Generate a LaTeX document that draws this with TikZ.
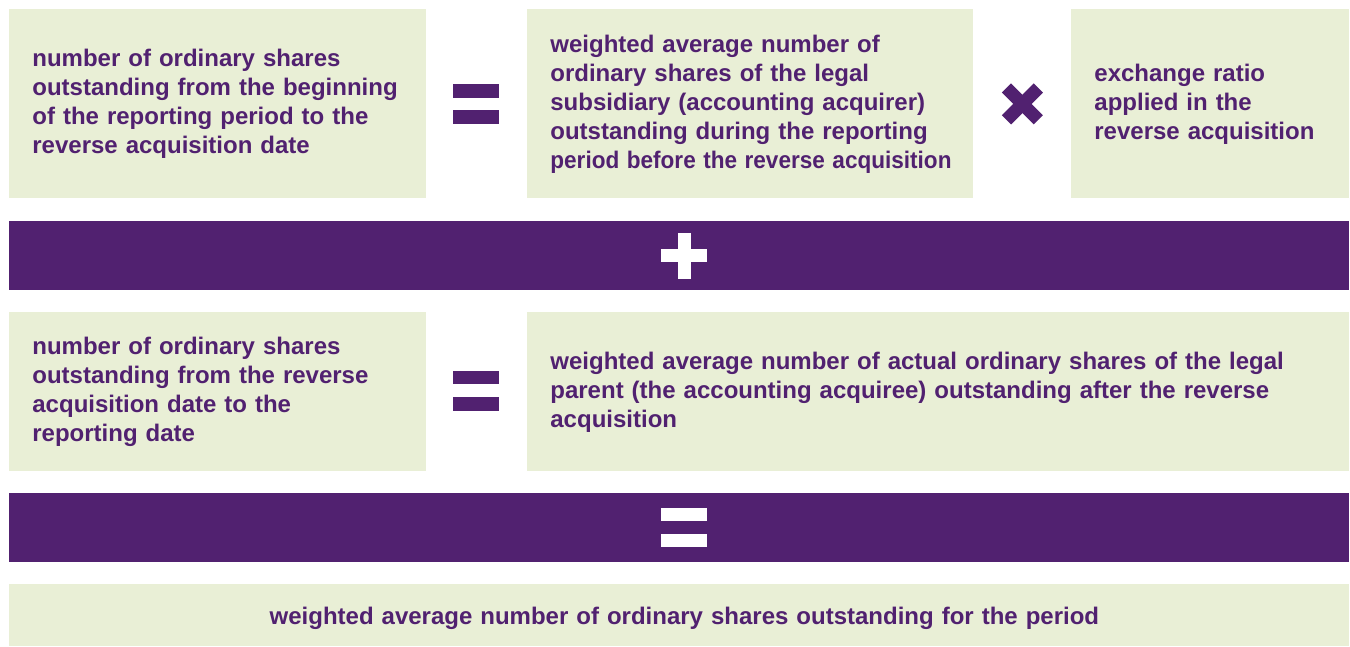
\documentclass[tikz,border=0pt]{standalone}
\usepackage{fontspec}
\setmainfont{Liberation Sans}
\usetikzlibrary{calc}
\definecolor{plum}{RGB}{81,33,112}
\definecolor{sage}{RGB}{233,239,214}
\tikzset{
	cell/.style={fill=sage, text=plum, font=\bfseries\fontsize{12}{14.5}\selectfont,
		align=left, anchor=north west, inner xsep=11.5pt, inner ysep=0pt},
	band/.style={fill=plum, anchor=north west, inner sep=0pt, minimum width=670pt, minimum height=34.5pt},
}

\begin{document}
\begin{tikzpicture}[x=0.5pt,y=-0.5pt]
	\useasboundingbox (0,0) rectangle (1350,647);
	
	% first row
	\node[cell, text width=185.5pt, minimum height=94.5pt] (prebox) at (9,9)
	{number of ordinary shares\\outstanding from the beginning\\of the reporting period to the\\reverse acquisition date};
	\node[cell, text width=200pt, minimum height=94.5pt] (subbox) at (527,9)
	{weighted average number of\\ordinary shares of the legal\\subsidiary (accounting acquirer)\\outstanding during the reporting\\\scalebox{0.94}[1]{period before the reverse acquisition}};
	\node[cell, text width=116pt, minimum height=94.5pt] (ratiobox) at (1071,9)
	{exchange ratio\\applied in the\\reverse acquisition};
	
	\fill[plum] (453,84) rectangle (499,98);
	\fill[plum] (453,110) rectangle (499,124);
	\coordinate (times) at ($(subbox.east)!0.5!(ratiobox.west)$);
	\fill[plum, rotate around={45:(times)}] ($(times)+(-22.5,-6.5)$) rectangle ($(times)+(22.5,6.5)$);
	\fill[plum, rotate around={-45:(times)}] ($(times)+(-22.5,-6.5)$) rectangle ($(times)+(22.5,6.5)$);
	
	% plus band
	\node[band] (plusband) at (9,221) {};
	\coordinate (plus) at ($(plusband.center)+(5,0)$);
	\fill[white] ($(plus)+(-23,-6.5)$) rectangle ($(plus)+(23,6.5)$);
	\fill[white] ($(plus)+(-6.5,-23)$) rectangle ($(plus)+(6.5,23)$);
	
	% second row
	\node[cell, text width=185.5pt, minimum height=79.5pt] (postbox) at (9,312)
	{number of ordinary shares\\outstanding from the reverse\\acquisition date to the\\reporting date};
	\node[cell, text width=388pt, minimum height=79.5pt] (parentbox) at (527,312)
	{weighted average number of actual ordinary shares of the legal\\parent (the accounting acquiree) outstanding after the reverse\\acquisition};
	
	\fill[plum] (453,371) rectangle (499,384);
	\fill[plum] (453,397) rectangle (499,411);
	
	% equals band
	\node[band] (eqband) at (9,493) {};
	\coordinate (eq) at ($(eqband.center)+(5,0)$);
	\fill[white] ($(eq)+(-23,-19.5)$) rectangle ($(eq)+(23,-6.5)$);
	\fill[white] ($(eq)+(-23,6.5)$) rectangle ($(eq)+(23,19.5)$);
	
	% result
	\node[cell, align=center, text width=647pt, minimum height=31pt, text depth=0pt] (totalbox) at (9,584)
	{\hspace*{5pt}weighted average number of ordinary shares outstanding for the period};
\end{tikzpicture}
\end{document}
